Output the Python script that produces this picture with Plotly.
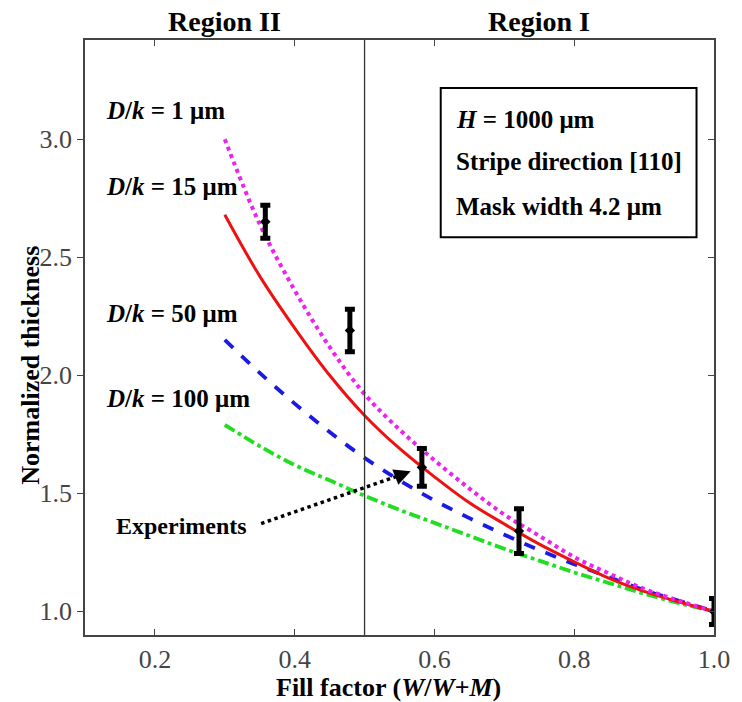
import plotly.graph_objects as go

fill = [0.30, 0.35, 0.40, 0.45, 0.50, 0.55, 0.60, 0.65, 0.70, 0.75, 0.80, 0.85, 0.90, 0.95, 1.00]
dk1 = [3.00, 2.64, 2.36, 2.12, 1.92, 1.77, 1.64, 1.52, 1.41, 1.32, 1.23, 1.16, 1.095, 1.045, 1.00]
dk15 = [2.68, 2.42, 2.20, 2.00, 1.83, 1.69, 1.57, 1.46, 1.37, 1.285, 1.21, 1.14, 1.085, 1.04, 1.00]
dk50 = [2.15, 2.01, 1.88, 1.76, 1.65, 1.555, 1.47, 1.395, 1.325, 1.26, 1.20, 1.145, 1.09, 1.045, 1.00]
dk100 = [1.79, 1.70, 1.62, 1.555, 1.49, 1.43, 1.375, 1.32, 1.265, 1.215, 1.165, 1.12, 1.075, 1.035, 1.00]

exp_x = [0.358, 0.479, 0.582, 0.721, 1.000]
exp_y = [2.65, 2.19, 1.61, 1.34, 1.00]
exp_err = [0.07, 0.09, 0.08, 0.095, 0.055]

curve_values = ["1 μm", "15 μm", "50 μm", "100 μm"]
label_y = [3.12, 2.80, 2.26, 1.90]

box_lines = ["<i>H</i> = 1000 μm", "Stripe direction [110]", "Mask width 4.2 μm"]
box_y = [3.085, 2.905, 2.715]

xticks = [0.2, 0.4, 0.6, 0.8, 1.0]
yticks = [1.0, 1.5, 2.0, 2.5, 3.0]
yrange = [0.9, 3.42]

FONT = "Liberation Serif"
AXC = "#444444"

fig = go.Figure()
fig.add_trace(go.Scatter(x=fill, y=dk100, mode="lines",
                         line=dict(color="#22dd22", width=3.8, dash="dashdot", shape="spline")))
fig.add_trace(go.Scatter(x=fill, y=dk50, mode="lines",
                         line=dict(color="#1a1ae6", width=3.8, dash="dash", shape="spline")))
fig.add_trace(go.Scatter(x=fill, y=dk15, mode="lines",
                         line=dict(color="#ee1111", width=3.0, shape="spline")))
fig.add_trace(go.Scatter(x=fill, y=dk1, mode="lines",
                         line=dict(color="#ee22ee", width=4.0, dash="dot", shape="spline")))
fig.add_trace(go.Scatter(x=exp_x, y=exp_y, mode="markers",
                         marker=dict(color="black", size=8, symbol="diamond"),
                         error_y=dict(type="data", array=exp_err, color="black",
                                      thickness=5, width=5)))
# invisible trace to anchor the right-hand tick axis
fig.add_trace(go.Scatter(x=[None], y=[None], yaxis="y2", showlegend=False,
                         hoverinfo="skip"))

# Region divider
fig.add_shape(type="line", x0=0.5, x1=0.5, y0=0, y1=1, yref="paper",
              line=dict(color="#333333", width=1.3))

# Info box
fig.add_shape(type="rect", x0=0.609, x1=0.975, y0=2.585, y1=3.217,
              line=dict(color="black", width=2), fillcolor="white", layer="above")
for t, yy in zip(box_lines, box_y):
    fig.add_annotation(x=0.628, y=yy, text="<b>" + t + "</b>", showarrow=False,
                       xanchor="left", yanchor="middle",
                       font=dict(family=FONT, size=25, color="black"))

# Curve labels
for v, yy in zip(curve_values, label_y):
    txt = "<b><i>D</i>/<i>k</i> = " + v + "</b>"
    fig.add_annotation(x=0.127, y=yy, text=txt, showarrow=False,
                       xanchor="left", yanchor="middle",
                       font=dict(family=FONT, size=25, color="black"))

# Region labels
fig.add_annotation(x=0.3, y=1.0, yref="paper", yanchor="bottom", yshift=1,
                   text="<b>Region II</b>", showarrow=False,
                   font=dict(family=FONT, size=28, color="black"))
fig.add_annotation(x=0.75, y=1.0, yref="paper", yanchor="bottom", yshift=1,
                   text="<b>Region I</b>", showarrow=False,
                   font=dict(family=FONT, size=28, color="black"))

# Experiments arrow
fig.add_shape(type="line", x0=0.352, y0=1.372, x1=0.556, y1=1.582,
              line=dict(color="black", width=3.5, dash="dot"))
fig.add_annotation(x=0.566, y=1.594, ax=0.548, ay=1.573, axref="x", ayref="y",
                   text="", showarrow=True, arrowhead=2, arrowsize=1.1,
                   arrowwidth=3, arrowcolor="black")
fig.add_annotation(x=0.335, y=1.362, text="<b>Experiments</b>", showarrow=False,
                   xanchor="right", yanchor="middle",
                   font=dict(family=FONT, size=24, color="black"))

# Axis titles
fig.add_annotation(x=-0.086, y=0.454, xref="paper", yref="paper",
                   text="<b>Normalized thickness</b>", showarrow=False, textangle=-90,
                   xanchor="center", yanchor="middle",
                   font=dict(family=FONT, size=26, color="black"))
fig.add_annotation(x=0.482, y=-0.089, xref="paper", yref="paper",
                   text="<b>Fill factor (<i>W</i>/<i>W</i>+<i>M</i>)</b>", showarrow=False,
                   xanchor="center", yanchor="middle",
                   font=dict(family=FONT, size=26, color="black"))

tickfont = dict(family=FONT, size=26, color=AXC)

fig.update_layout(
    xaxis=dict(range=[0.1, 1.0], tickvals=xticks, ticktext=[f"{v:.1f}" for v in xticks],
               showline=True, linecolor=AXC, linewidth=1.5, mirror="ticks",
               ticks="inside", ticklen=6, tickwidth=1.3, tickcolor=AXC,
               showgrid=False, zeroline=False, tickfont=tickfont),
    yaxis=dict(range=yrange, tickvals=yticks, ticktext=[f"{v:.1f}" for v in yticks],
               showline=True, linecolor=AXC, linewidth=1.5, mirror=True,
               ticks="outside", ticklen=6, tickwidth=1.3, tickcolor=AXC,
               showgrid=False, zeroline=False, tickfont=tickfont),
    yaxis2=dict(range=yrange, tickvals=yticks, overlaying="y", side="right",
                showticklabels=False, showline=False, ticks="inside", ticklen=6,
                tickwidth=1.3, tickcolor=AXC, showgrid=False, zeroline=False),
    width=742, height=702, showlegend=False,
    plot_bgcolor="white", paper_bgcolor="white",
    margin=dict(l=85, r=20, t=40, b=67),
)

fig.write_html("out.html")
